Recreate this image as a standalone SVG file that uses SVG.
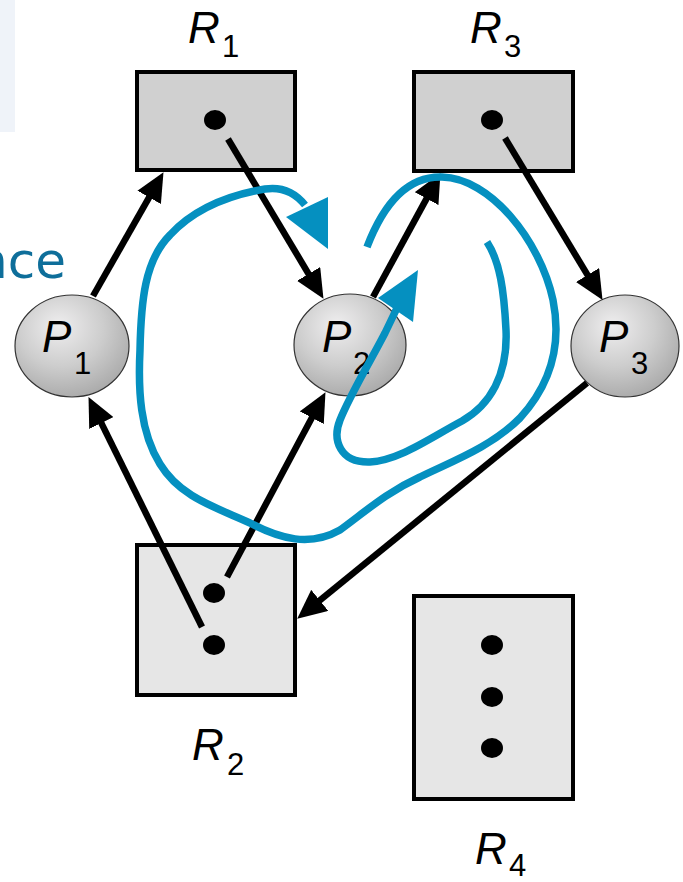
<svg xmlns="http://www.w3.org/2000/svg" width="683" height="882" viewBox="0 0 683 882">
  <style>
    .res { stroke: #000; stroke-width: 4; }
    .r-dark { fill: #d0d0d0; }
    .r-light { fill: #e6e6e6; }
    .dot { fill: #000; }
    .ball { fill: url(#ballGrad); stroke: #333; stroke-width: 1.2; }
    .lbl { font-family: "Liberation Sans", Arial, sans-serif; font-style: italic; fill: #000; }
    .big { font-size: 44px; }
    .sub { font-size: 31px; font-style: normal; }
    .edge { stroke: #000; stroke-width: 6.5; fill: none; marker-end: url(#arrow); }
    .blue { stroke: #0590c0; stroke-width: 7.5; fill: none; stroke-linecap: butt; stroke-linejoin: round; }
    .bhead { fill: #0590c0; }
  </style>
  <defs>
    <radialGradient id="ballGrad" cx="0.42" cy="0.35" fx="0.38" fy="0.3" r="0.75">
      <stop offset="0" stop-color="#efeeef"/>
      <stop offset="0.5" stop-color="#cdcdcd"/>
      <stop offset="1" stop-color="#a2a2a2"/>
    </radialGradient>
    <marker id="arrow" viewBox="0 0 29 27" refX="8" refY="13.5" markerWidth="29" markerHeight="27" markerUnits="userSpaceOnUse" orient="auto">
      <path d="M0,0 L29,13.5 L0,27 z" fill="#000"/>
    </marker>
  </defs>

  <rect x="0" y="0" width="15" height="132" fill="#eff3f9"/>
  <text x="-24" y="278" font-family="'DejaVu Sans', Verdana, sans-serif" font-size="50" fill="#0e6e9a">nce</text>

  <g id="R1">
    <rect class="res r-dark" x="137" y="72" width="158" height="98"/>
    <ellipse class="dot" cx="215" cy="120" rx="11" ry="10"/>
    <text class="lbl big" x="188" y="43">R</text>
    <text class="lbl sub" x="222" y="57">1</text>
  </g>
  <g id="R3">
    <rect class="res r-dark" x="414" y="72" width="159" height="99"/>
    <ellipse class="dot" cx="492" cy="120" rx="11" ry="10"/>
    <text class="lbl big" x="470" y="43">R</text>
    <text class="lbl sub" x="504" y="57">3</text>
  </g>
  <g id="R2">
    <rect class="res r-light" x="137" y="545" width="158" height="150"/>
    <ellipse class="dot" cx="214" cy="593" rx="11" ry="10"/>
    <ellipse class="dot" cx="214" cy="645" rx="11" ry="10"/>
    <text class="lbl big" x="192" y="760">R</text>
    <text class="lbl sub" x="227" y="775">2</text>
  </g>
  <g id="R4">
    <rect class="res r-light" x="414" y="596" width="159" height="203"/>
    <ellipse class="dot" cx="492" cy="645" rx="11" ry="10"/>
    <ellipse class="dot" cx="492" cy="697" rx="11" ry="10"/>
    <ellipse class="dot" cx="492" cy="748" rx="11" ry="10"/>
    <text class="lbl big" x="475" y="864">R</text>
    <text class="lbl sub" x="509" y="876">4</text>
  </g>

  <g id="P1">
    <ellipse class="ball" cx="72" cy="346" rx="57" ry="51"/>
    <text class="lbl big" x="42" y="352">P</text>
    <text class="lbl sub" x="74" y="374">1</text>
  </g>
  <g id="P2">
    <ellipse class="ball" cx="350" cy="345" rx="56" ry="51"/>
    <text class="lbl big" x="322" y="352">P</text>
    <text class="lbl sub" x="353" y="374">2</text>
  </g>
  <g id="P3">
    <ellipse class="ball" cx="625" cy="346" rx="54" ry="51"/>
    <text class="lbl big" x="599" y="352">P</text>
    <text class="lbl sub" x="631" y="374">3</text>
  </g>

  <g id="connectors">
    <line class="edge" x1="93" y1="296" x2="153.1" y2="190.4"/>
    <line class="edge" x1="228" y1="139" x2="312.7" y2="280.8"/>
    <line class="edge" x1="373" y1="297" x2="430.4" y2="191.6"/>
    <line class="edge" x1="505" y1="138" x2="591.7" y2="281.9"/>
    <line class="edge" x1="587" y1="383" x2="313.5" y2="605.4"/>
    <line class="edge" x1="227" y1="577" x2="315.6" y2="410.7"/>
    <line class="edge" x1="202" y1="627" x2="97.8" y2="415.9"/>
  </g>

  <g id="cycles">
    <path class="blue" d="M367,247 C385,200 410,176 442,177 C490,178 540,240 553,300 C562,345 550,385 520,418 C490,448 450,462 420,477 C385,493 365,512 340,530 C310,547 280,539 250,523 C215,507 180,497 160,464 C140,432 138,390 140,350 C141,300 145,260 170,235 C195,208 230,195 265,189 C285,186 297,195 305,205"/>
    <polygon class="bhead" points="286,217 328,197 328,249"/>
    <path class="blue" d="M487,242 C500,262 504,290 506,330 C508,375 490,405 462,421 C430,438 400,460 370,462 C340,463 332,440 340,420 C350,395 370,362 385,333 L397,308"/>
    <polygon class="bhead" points="378,298 418,270 413,322"/>
  </g>
</svg>
